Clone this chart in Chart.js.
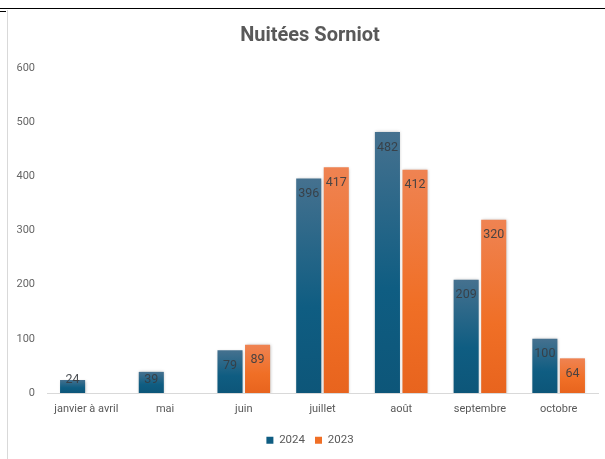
<!DOCTYPE html>
<html>
<head>
<meta charset="utf-8">
<script src="https://cdn.jsdelivr.net/npm/chart.js@4.4.1/dist/chart.umd.min.js"></script>
<style>
  html, body { margin:0; padding:0; width:605px; height:459px; overflow:hidden; background:#fff; }
  #topline { position:absolute; left:0; top:7.5px; width:605px; height:1.5px; background:#000; }
  #tick { position:absolute; left:0; top:11px; width:6px; height:1px; background:#000; }
  #leftline { position:absolute; left:7px; top:10px; width:1px; height:449px; background:#d9d9d9; }
  #wrap { position:absolute; left:10px; top:0; width:600px; height:459px; }
</style>
</head>
<body>
<div id="topline"></div>
<div id="tick"></div>
<div id="leftline"></div>
<div id="wrap"><canvas id="c"></canvas></div>
<script>
const categories = ["janvier à avril", "mai", "juin", "juillet", "août", "septembre", "octobre"];
const series2024 = [24, 39, 79, 396, 482, 209, 100];
const series2023 = [null, null, 89, 417, 412, 320, 64];
const seriesNames = ["2024", "2023"];
const yTicks = [0, 100, 200, 300, 400, 500, 600];

const blueStops = ["#45718f", "#0f5d82", "#0d5679"];
const orangeStops = ["#ef8352", "#f06f26", "#e8641e"];

function grad(ctx, stops) {
  const chart = ctx.chart;
  if (!chart.chartArea || ctx.raw == null || !chart.scales.y) return stops[1];
  const ys = chart.scales.y;
  const top = ys.getPixelForValue(ctx.raw), bot = ys.getPixelForValue(0);
  if (!isFinite(top) || !isFinite(bot) || top === bot) return stops[1];
  const g = chart.ctx.createLinearGradient(0, top, 0, bot);
  g.addColorStop(0, stops[0]);
  g.addColorStop(0.6, stops[1]);
  g.addColorStop(1, stops[2]);
  return g;
}

const barDeco = {
  id: 'barDeco',
  afterLayout(chart) {
    // let the y tick labels use the left padding area (avoid label clipping)
    if (chart.scales.y) chart.scales.y.left = 0;
  },
  beforeDatasetsDraw(chart) {
    const c = chart.ctx;
    c.save();
    c.shadowColor = 'rgba(0,0,0,0.28)';
    c.shadowBlur = 3;
    c.shadowOffsetX = 0.5;
    c.shadowOffsetY = 0.5;
  },
  afterDatasetsDraw(chart) {
    const c = chart.ctx;
    c.restore();
    c.save();
    c.font = '12.5px Roboto, "Liberation Sans", sans-serif';
    c.fillStyle = 'rgba(55,60,65,0.9)';
    c.textAlign = 'center';
    c.textBaseline = 'middle';
    chart.data.datasets.forEach((ds, i) => {
      const meta = chart.getDatasetMeta(i);
      meta.data.forEach((el, j) => {
        const v = ds.data[j];
        if (v == null) return;
        const y = Math.min(el.y + 15.5, el.base - 13);
        c.fillText(String(v), el.x, y);
      });
    });
    c.restore();
  }
};

new Chart(document.getElementById('c'), {
  type: 'bar',
  data: {
    labels: categories,
    datasets: [
      { label: seriesNames[0], data: series2024, backgroundColor: ctx => grad(ctx, blueStops), borderWidth: 0 },
      { label: seriesNames[1], data: series2023, backgroundColor: ctx => grad(ctx, orangeStops), borderWidth: 0 }
    ]
  },
  options: {
    responsive: true,
    maintainAspectRatio: false,
    animation: false,
    events: [],
    datasets: { bar: { barPercentage: 0.91, categoryPercentage: 0.70 } },
    layout: { padding: { left: 12, right: 12, top: 0, bottom: 3 } },
    plugins: {
      title: {
        display: true,
        text: 'Nuitées Sorniot',
        color: '#595959',
        font: { family: 'Roboto', size: 20, weight: 'bold' },
        padding: { top: 23.5, bottom: 20.5 }
      },
      legend: {
        display: true,
        position: 'bottom',
        labels: {
          color: '#595959',
          font: { family: 'Roboto', size: 11.5 },
          boxWidth: 7,
          boxHeight: 7,
          padding: 10,
          generateLabels(chart) {
            const cols = [blueStops[1], orangeStops[1]];
            return chart.data.datasets.map((ds, i) => ({
              text: ds.label, fillStyle: cols[i], strokeStyle: cols[i], lineWidth: 0,
              fontColor: '#595959', datasetIndex: i, hidden: false
            }));
          }
        }
      },
      tooltip: { enabled: false }
    },
    scales: {
      x: {
        grid: { display: false, drawTicks: false },
        border: { display: true, color: '#d9d9d9', width: 1 },
        ticks: { color: '#595959', font: { family: 'Roboto', size: 11 }, padding: 10, maxRotation: 0, autoSkip: false },
        afterFit(s) { s.height = 31.5; }
      },
      y: {
        min: 0, max: 600,
        grid: { display: false, drawTicks: false },
        border: { display: false },
        afterBuildTicks(s) { s.ticks = yTicks.map(v => ({ value: v })); },
        ticks: { color: '#666666', font: { family: 'Roboto', size: 11 }, padding: 12 },
        afterFit(s) { s.width = 25; }
      }
    }
  },
  plugins: [barDeco]
});
</script>
</body>
</html>
